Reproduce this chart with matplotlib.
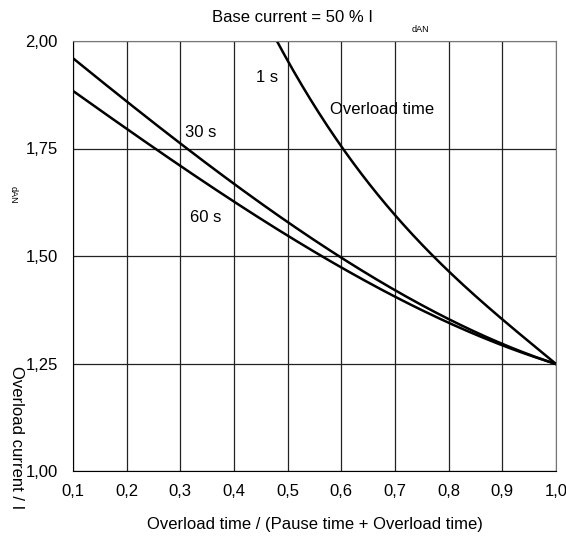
import matplotlib.pyplot as plt
import numpy as np

plt.rcParams['font.family'] = ['Liberation Sans', 'DejaVu Sans']

# values
x_1s = [0.48, 0.50, 0.55, 0.60, 0.65, 0.70, 0.80, 0.90, 1.00]
y_1s = [2.00, 1.955, 1.85, 1.75, 1.67, 1.60, 1.465, 1.35, 1.25]

x_30s = [0.1, 0.2, 0.3, 0.4, 0.5, 0.6, 0.7, 0.8, 0.9, 1.0]
y_30s = [1.96, 1.863, 1.754, 1.67, 1.58, 1.50, 1.42, 1.35, 1.295, 1.25]

x_60s = [0.1, 0.2, 0.3, 0.4, 0.5, 0.6, 0.7, 0.8, 0.9, 1.0]
y_60s = [1.886, 1.793, 1.708, 1.626, 1.553, 1.472, 1.405, 1.343, 1.292, 1.25]

xticks = [0.1, 0.2, 0.3, 0.4, 0.5, 0.6, 0.7, 0.8, 0.9, 1.0]
xticklabels = ['0,1', '0,2', '0,3', '0,4', '0,5', '0,6', '0,7', '0,8', '0,9', '1,0']
yticks = [1.00, 1.25, 1.50, 1.75, 2.00]
yticklabels = ['1,00', '1,25', '1,50', '1,75', '2,00']


def smooth(xs, ys):
    # cubic fit through the read points, drawn densely
    xx = np.linspace(xs[0], xs[-1], 200)
    c = np.polyfit(xs, ys, 3)
    return xx, np.polyval(c, xx)


fig = plt.figure(figsize=(5.66, 5.38), dpi=100)
ax = fig.add_axes([73/566, 1 - 471/538, (556-73)/566, (471-41)/538])

for xs, ys in [(x_1s, y_1s), (x_30s, y_30s), (x_60s, y_60s)]:
    xx, yy = smooth(xs, ys)
    ax.plot(xx, yy, color='black', lw=1.8)

ax.set_xlim(0.1, 1.0)
ax.set_ylim(1.0, 2.0)
ax.set_xticks(xticks)
ax.set_xticklabels(xticklabels)
ax.set_yticks(yticks)
ax.set_yticklabels(yticklabels)
ax.grid(True, color='#222222', lw=0.9)
ax.tick_params(length=0, labelsize=12)
ax.tick_params(axis='x', pad=9)
ax.tick_params(axis='y', pad=11)
for side in ['top', 'right']:
    ax.spines[side].set_color('#777777')
for side in ['left', 'bottom']:
    ax.spines[side].set_color('black')

ax.text(0.461, 1.914, '1 s', fontsize=12, ha='center', va='center')
ax.text(0.337, 1.788, '30 s', fontsize=12, ha='center', va='center')
ax.text(0.348, 1.59, '60 s', fontsize=12, ha='center', va='center')
ax.text(0.675, 1.84, 'Overload time', fontsize=12, ha='center', va='center')

fig.text(292/566, 1 - 18/538, 'Base current = 50 % I', fontsize=12, ha='center', va='center')
fig.text(420/566, 1 - 30/538, 'dAN', fontsize=6.5, ha='center', va='center')
fig.text(16/566, 1 - 438/538, 'Overload current / I', fontsize=12, rotation=-90,
         ha='center', va='center')
fig.text(13/566, 1 - 195/538, 'dAN', fontsize=6.5, rotation=-90, ha='center', va='center')

ax.set_xlabel('Overload time / (Pause time + Overload time)', fontsize=12, labelpad=13)

fig.savefig('out.png', dpi=100)
